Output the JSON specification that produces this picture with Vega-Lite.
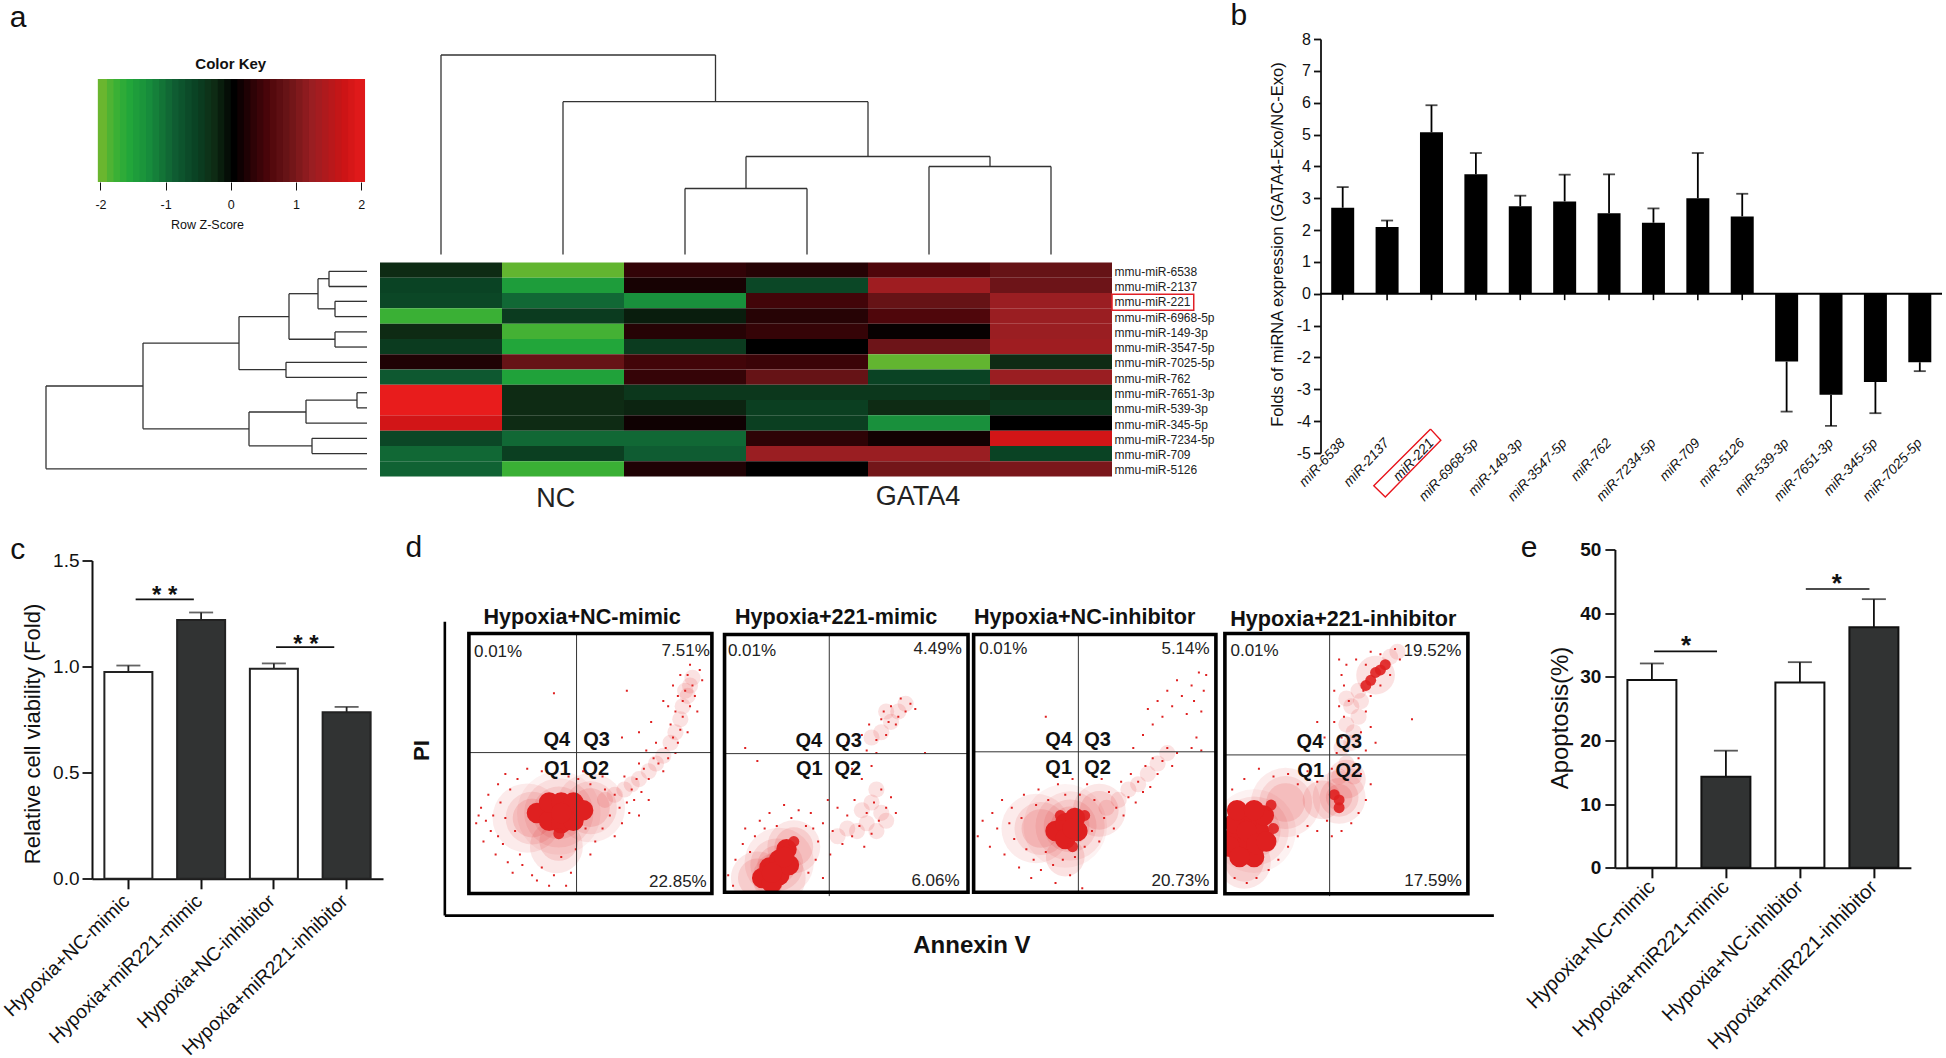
{"$schema":"https://vega.github.io/schema/vega-lite/v6.json","background":"white","padding":{"left":0,"top":1,"right":0,"bottom":0},"autosize":{"type":"pad"},"config":{"font":"Liberation Sans","view":{"stroke":null},"axis":{"grid":false,"labelColor":"#111","titleColor":"#111","domainColor":"#111","tickColor":"#111","titleFontWeight":"normal"}},"vconcat":[{"hconcat":[{"vconcat":[{"hconcat":[{"width":320,"height":218.5,"layer":[{"data":{"values":[{"z":-2.04,"z2":-1.87},{"z":-1.9,"z2":-1.77},{"z":-1.8,"z2":-1.67},{"z":-1.7,"z2":-1.57},{"z":-1.6,"z2":-1.47},{"z":-1.5,"z2":-1.37},{"z":-1.4,"z2":-1.27},{"z":-1.3,"z2":-1.17},{"z":-1.2,"z2":-1.07},{"z":-1.1,"z2":-0.97},{"z":-1.0,"z2":-0.87},{"z":-0.9,"z2":-0.77},{"z":-0.8,"z2":-0.67},{"z":-0.7,"z2":-0.57},{"z":-0.6,"z2":-0.47},{"z":-0.5,"z2":-0.37},{"z":-0.4,"z2":-0.27},{"z":-0.3,"z2":-0.17},{"z":-0.2,"z2":-0.07},{"z":-0.1,"z2":0.03},{"z":0,"z2":0.13},{"z":0.1,"z2":0.23},{"z":0.2,"z2":0.33},{"z":0.3,"z2":0.43},{"z":0.4,"z2":0.53},{"z":0.5,"z2":0.63},{"z":0.6,"z2":0.73},{"z":0.7,"z2":0.83},{"z":0.8,"z2":0.93},{"z":0.9,"z2":1.03},{"z":1.0,"z2":1.13},{"z":1.1,"z2":1.23},{"z":1.2,"z2":1.33},{"z":1.3,"z2":1.43},{"z":1.4,"z2":1.53},{"z":1.5,"z2":1.63},{"z":1.6,"z2":1.73},{"z":1.7,"z2":1.83},{"z":1.8,"z2":1.93},{"z":1.9,"z2":2.06}]},"mark":{"type":"rect"},"encoding":{"x":{"field":"z","type":"quantitative","scale":{"domain":[-2.82,2.09],"nice":false,"zero":false},"axis":{"values":[-2,-1,0,1,2],"labelExpr":"datum.value","offset":-75.5,"domain":false,"tickSize":8,"labelPadding":8,"labelFontSize":12.5,"title":"Row Z-Score","titleFontSize":12.5,"titlePadding":8}},"x2":{"field":"z2"},"y":{"datum":0,"type":"quantitative","scale":{"domain":[-0.733,1.388],"nice":false,"zero":false},"axis":null},"y2":{"datum":1},"color":{"field":"z","type":"quantitative","legend":null,"scale":{"interpolate":"rgb","domain":[-2,-1.8,-1.6,-1.3,-0.9,-0.6,-0.3,0,0.3,0.55,0.8,1.2,1.7,2],"range":["#62b530","#3ab035","#22a63a","#178c3c","#0f5c32","#0a4324","#0e2b14","#000000","#2e0306","#4f060b","#661316","#9a1e22","#cd1416","#e81c1c"]}}}},{"data":{"values":[{"t":"Color Key","x":0,"y":1.144}]},"mark":{"type":"text","fontSize":15,"fontWeight":"bold","color":"#111"},"encoding":{"x":{"field":"x","type":"quantitative"},"y":{"field":"y","type":"quantitative"},"text":{"field":"t"}}},{"data":{"values":[{"t":"a","x":-3.265,"y":1.592}]},"mark":{"type":"text","fontSize":30,"color":"#111"},"encoding":{"x":{"field":"x","type":"quantitative"},"y":{"field":"y","type":"quantitative"},"text":{"field":"t"}}}]},{"width":732,"height":218.5,"data":{"values":[{"x":0.5,"x2":2.75,"y":202.5,"y2":202.5},{"x":0.5,"x2":0.5,"y":3,"y2":202.5},{"x":2.75,"x2":2.75,"y":155.8,"y2":202.5},{"x":1.5,"x2":4,"y":155.8,"y2":155.8},{"x":1.5,"x2":1.5,"y":3,"y2":155.8},{"x":4,"x2":4,"y":101,"y2":155.8},{"x":3,"x2":5,"y":101,"y2":101},{"x":3,"x2":3,"y":69,"y2":101},{"x":5,"x2":5,"y":91,"y2":101},{"x":2.5,"x2":3.5,"y":69,"y2":69},{"x":2.5,"x2":2.5,"y":3,"y2":69},{"x":3.5,"x2":3.5,"y":3,"y2":69},{"x":4.5,"x2":5.5,"y":91,"y2":91},{"x":4.5,"x2":4.5,"y":3,"y2":91},{"x":5.5,"x2":5.5,"y":3,"y2":91}]},"mark":{"type":"rule","color":"#333","strokeWidth":1.3},"encoding":{"x":{"field":"x","type":"quantitative","scale":{"domain":[0,6],"nice":false},"axis":null},"x2":{"field":"x2"},"y":{"field":"y","type":"quantitative","scale":{"domain":[0,218.5],"nice":false},"axis":null},"y2":{"field":"y2"}}}],"spacing":13,"bounds":"flush"},{"hconcat":[{"width":320,"height":214,"data":{"values":[{"x":0,"x2":38,"y":0.575,"y2":0.575},{"x":0,"x2":38,"y":1.57,"y2":1.57},{"x":38,"x2":38,"y":0.575,"y2":1.57},{"x":0,"x2":32,"y":2.54,"y2":2.54},{"x":0,"x2":32,"y":3.54,"y2":3.54},{"x":32,"x2":32,"y":2.54,"y2":3.54},{"x":38,"x2":49,"y":1.06,"y2":1.06},{"x":32,"x2":49,"y":3.03,"y2":3.03},{"x":49,"x2":49,"y":1.06,"y2":3.03},{"x":0,"x2":32,"y":4.54,"y2":4.54},{"x":0,"x2":32,"y":5.53,"y2":5.53},{"x":32,"x2":32,"y":4.54,"y2":5.53},{"x":49,"x2":78,"y":2.04,"y2":2.04},{"x":32,"x2":78,"y":5.02,"y2":5.02},{"x":78,"x2":78,"y":2.04,"y2":5.02},{"x":0,"x2":81,"y":6.53,"y2":6.53},{"x":0,"x2":81,"y":7.52,"y2":7.52},{"x":81,"x2":81,"y":6.53,"y2":7.52},{"x":78,"x2":128,"y":3.54,"y2":3.54},{"x":81,"x2":128,"y":7.01,"y2":7.01},{"x":128,"x2":128,"y":3.54,"y2":7.01},{"x":0,"x2":10,"y":8.52,"y2":8.52},{"x":0,"x2":10,"y":9.51,"y2":9.51},{"x":10,"x2":10,"y":8.52,"y2":9.51},{"x":10,"x2":61,"y":9.0,"y2":9.0},{"x":0,"x2":61,"y":10.51,"y2":10.51},{"x":61,"x2":61,"y":9.0,"y2":10.51},{"x":0,"x2":55,"y":11.5,"y2":11.5},{"x":0,"x2":55,"y":12.5,"y2":12.5},{"x":55,"x2":55,"y":11.5,"y2":12.5},{"x":61,"x2":118,"y":9.78,"y2":9.78},{"x":55,"x2":118,"y":11.99,"y2":11.99},{"x":118,"x2":118,"y":9.78,"y2":11.99},{"x":128,"x2":224,"y":5.27,"y2":5.27},{"x":118,"x2":224,"y":10.88,"y2":10.88},{"x":224,"x2":224,"y":5.27,"y2":10.88},{"x":224,"x2":321,"y":8.08,"y2":8.08},{"x":0,"x2":321,"y":13.5,"y2":13.5},{"x":321,"x2":321,"y":8.08,"y2":13.5}]},"mark":{"type":"rule","color":"#333","strokeWidth":1.3},"encoding":{"x":{"field":"x","type":"quantitative","scale":{"domain":[320,0],"nice":false,"zero":false},"axis":null},"x2":{"field":"x2"},"y":{"field":"y","type":"quantitative","scale":{"domain":[14,0],"nice":false},"axis":null},"y2":{"field":"y2"}}},{"width":732,"height":214,"layer":[{"data":{"values":[{"m":"mmu-miR-6538","s":"NC1","z":-0.3},{"m":"mmu-miR-6538","s":"NC2","z":-2},{"m":"mmu-miR-6538","s":"NC3","z":0.33},{"m":"mmu-miR-6538","s":"G1","z":0.25},{"m":"mmu-miR-6538","s":"G2","z":0.55},{"m":"mmu-miR-6538","s":"G3","z":0.8},{"m":"mmu-miR-2137","s":"NC1","z":-0.6},{"m":"mmu-miR-2137","s":"NC2","z":-1.5},{"m":"mmu-miR-2137","s":"NC3","z":0.15},{"m":"mmu-miR-2137","s":"G1","z":-0.65},{"m":"mmu-miR-2137","s":"G2","z":1.25},{"m":"mmu-miR-2137","s":"G3","z":0.85},{"m":"mmu-miR-221","s":"NC1","z":-0.65},{"m":"mmu-miR-221","s":"NC2","z":-1.0},{"m":"mmu-miR-221","s":"NC3","z":-1.35},{"m":"mmu-miR-221","s":"G1","z":0.45},{"m":"mmu-miR-221","s":"G2","z":0.8},{"m":"mmu-miR-221","s":"G3","z":1.2},{"m":"mmu-miR-6968-5p","s":"NC1","z":-1.8},{"m":"mmu-miR-6968-5p","s":"NC2","z":-0.5},{"m":"mmu-miR-6968-5p","s":"NC3","z":-0.2},{"m":"mmu-miR-6968-5p","s":"G1","z":0.25},{"m":"mmu-miR-6968-5p","s":"G2","z":0.55},{"m":"mmu-miR-6968-5p","s":"G3","z":1.2},{"m":"mmu-miR-149-3p","s":"NC1","z":-0.3},{"m":"mmu-miR-149-3p","s":"NC2","z":-1.85},{"m":"mmu-miR-149-3p","s":"NC3","z":0.25},{"m":"mmu-miR-149-3p","s":"G1","z":0.35},{"m":"mmu-miR-149-3p","s":"G2","z":0.05},{"m":"mmu-miR-149-3p","s":"G3","z":1.2},{"m":"mmu-miR-3547-5p","s":"NC1","z":-0.5},{"m":"mmu-miR-3547-5p","s":"NC2","z":-1.6},{"m":"mmu-miR-3547-5p","s":"NC3","z":-0.5},{"m":"mmu-miR-3547-5p","s":"G1","z":0},{"m":"mmu-miR-3547-5p","s":"G2","z":0.85},{"m":"mmu-miR-3547-5p","s":"G3","z":1.25},{"m":"mmu-miR-7025-5p","s":"NC1","z":0.2},{"m":"mmu-miR-7025-5p","s":"NC2","z":0.8},{"m":"mmu-miR-7025-5p","s":"NC3","z":0.45},{"m":"mmu-miR-7025-5p","s":"G1","z":0.4},{"m":"mmu-miR-7025-5p","s":"G2","z":-2},{"m":"mmu-miR-7025-5p","s":"G3","z":-0.3},{"m":"mmu-miR-762","s":"NC1","z":-0.85},{"m":"mmu-miR-762","s":"NC2","z":-1.55},{"m":"mmu-miR-762","s":"NC3","z":0.35},{"m":"mmu-miR-762","s":"G1","z":0.8},{"m":"mmu-miR-762","s":"G2","z":-0.6},{"m":"mmu-miR-762","s":"G3","z":1.2},{"m":"mmu-miR-7651-3p","s":"NC1","z":2},{"m":"mmu-miR-7651-3p","s":"NC2","z":-0.3},{"m":"mmu-miR-7651-3p","s":"NC3","z":-0.45},{"m":"mmu-miR-7651-3p","s":"G1","z":-0.45},{"m":"mmu-miR-7651-3p","s":"G2","z":-0.45},{"m":"mmu-miR-7651-3p","s":"G3","z":-0.35},{"m":"mmu-miR-539-3p","s":"NC1","z":2},{"m":"mmu-miR-539-3p","s":"NC2","z":-0.3},{"m":"mmu-miR-539-3p","s":"NC3","z":-0.25},{"m":"mmu-miR-539-3p","s":"G1","z":-0.55},{"m":"mmu-miR-539-3p","s":"G2","z":-0.3},{"m":"mmu-miR-539-3p","s":"G3","z":-0.45},{"m":"mmu-miR-345-5p","s":"NC1","z":1.75},{"m":"mmu-miR-345-5p","s":"NC2","z":-0.3},{"m":"mmu-miR-345-5p","s":"NC3","z":0.1},{"m":"mmu-miR-345-5p","s":"G1","z":-0.55},{"m":"mmu-miR-345-5p","s":"G2","z":-1.35},{"m":"mmu-miR-345-5p","s":"G3","z":0},{"m":"mmu-miR-7234-5p","s":"NC1","z":-0.65},{"m":"mmu-miR-7234-5p","s":"NC2","z":-1.0},{"m":"mmu-miR-7234-5p","s":"NC3","z":-1.0},{"m":"mmu-miR-7234-5p","s":"G1","z":0.3},{"m":"mmu-miR-7234-5p","s":"G2","z":0.12},{"m":"mmu-miR-7234-5p","s":"G3","z":1.75},{"m":"mmu-miR-709","s":"NC1","z":-1.0},{"m":"mmu-miR-709","s":"NC2","z":-0.55},{"m":"mmu-miR-709","s":"NC3","z":-0.9},{"m":"mmu-miR-709","s":"G1","z":1.2},{"m":"mmu-miR-709","s":"G2","z":1.2},{"m":"mmu-miR-709","s":"G3","z":-0.6},{"m":"mmu-miR-5126","s":"NC1","z":-0.95},{"m":"mmu-miR-5126","s":"NC2","z":-1.8},{"m":"mmu-miR-5126","s":"NC3","z":0.2},{"m":"mmu-miR-5126","s":"G1","z":0},{"m":"mmu-miR-5126","s":"G2","z":0.9},{"m":"mmu-miR-5126","s":"G3","z":0.95}]},"mark":{"type":"rect"},"encoding":{"x":{"field":"s","type":"nominal","sort":null,"axis":null,"scale":{"padding":0}},"y":{"field":"m","type":"nominal","sort":null,"scale":{"padding":0},"axis":{"orient":"right","title":null,"domain":false,"ticks":false,"labelFontSize":12,"labelPadding":2,"labelOffset":1.5,"labelColor":"#222"}},"color":{"field":"z","type":"quantitative","legend":null,"scale":{"interpolate":"rgb","domain":[-2,-1.8,-1.6,-1.3,-0.9,-0.6,-0.3,0,0.3,0.55,0.8,1.2,1.7,2],"range":["#62b530","#3ab035","#22a63a","#178c3c","#0f5c32","#0a4324","#0e2b14","#000000","#2e0306","#4f060b","#661316","#9a1e22","#cd1416","#e81c1c"]}}}},{"layer":[{"data":{"values":[{"x":6,"x2":6.67,"y":2.08,"y2":3.12}]},"mark":{"type":"rect","fill":null,"stroke":"#e01f26","strokeWidth":1.5},"encoding":{"x":{"field":"x","type":"quantitative","scale":{"domain":[0,6],"nice":false},"axis":null},"x2":{"field":"x2"},"y":{"field":"y","type":"quantitative","scale":{"domain":[14,0],"nice":false},"axis":null},"y2":{"field":"y2"}}},{"data":{"values":[{"t":"NC","x":1.44,"y":15.48},{"t":"GATA4","x":4.41,"y":15.31}]},"mark":{"type":"text","fontSize":27,"color":"#222"},"encoding":{"x":{"field":"x","type":"quantitative"},"y":{"field":"y","type":"quantitative"},"text":{"field":"t"}}}]}],"resolve":{"scale":{"x":"independent","y":"independent"}}}],"spacing":13,"bounds":"flush"}],"spacing":223.5,"bounds":"flush"},{"width":621.5,"height":414,"layer":[{"data":{"values":[{"m":"miR-6538","v":2.7,"e":3.35},{"m":"miR-2137","v":2.1,"e":2.3},{"m":"miR-221","v":5.07,"e":5.92},{"m":"miR-6968-5p","v":3.75,"e":4.42},{"m":"miR-149-3p","v":2.75,"e":3.08},{"m":"miR-3547-5p","v":2.9,"e":3.74},{"m":"miR-762","v":2.53,"e":3.75},{"m":"miR-7234-5p","v":2.23,"e":2.68},{"m":"miR-709","v":3.0,"e":4.42},{"m":"miR-5126","v":2.43,"e":3.14},{"m":"miR-539-3p","v":-2.13,"e":-3.7},{"m":"miR-7651-3p","v":-3.17,"e":-4.15},{"m":"miR-345-5p","v":-2.77,"e":-3.75},{"m":"miR-7025-5p","v":-2.15,"e":-2.43}]},"layer":[{"mark":{"type":"bar","color":"#000","width":23},"encoding":{"x":{"field":"m","type":"nominal","sort":null,"title":null,"scale":{"paddingInner":0.48,"paddingOuter":0.24},"axis":{"domain":false,"ticks":false,"labelAngle":-47,"labelAlign":"right","labelBaseline":"middle","labelPadding":-12.5,"labelFontSize":13.8,"labelFontStyle":"italic"}},"y":{"field":"v","type":"quantitative","title":"Folds of miRNA expression (GATA4-Exo/NC-Exo)","scale":{"domain":[-5,8],"nice":false},"axis":{"values":[-5,-4,-3,-2,-1,0,1,2,3,4,5,6,7,8],"tickCount":14,"labelExpr":"''+datum.value","labelOverlap":false,"labelFontSize":16,"tickSize":7,"tickWidth":1.8,"domainWidth":1.8,"labelPadding":3,"titleFontSize":16.6,"titleX":-43,"titleY":205,"titleBaseline":"middle"}}}},{"mark":{"type":"rule","color":"#000","strokeWidth":1.8},"encoding":{"x":{"field":"m","type":"nominal","sort":null},"y":{"field":"v","type":"quantitative"},"y2":{"field":"e"}}},{"mark":{"type":"tick","color":"#000","size":12,"thickness":1.8},"encoding":{"x":{"field":"m","type":"nominal","sort":null},"y":{"field":"e","type":"quantitative"}}},{"transform":[{"filter":"datum.v>0"}],"mark":{"type":"rule","color":"#000","strokeWidth":1.6},"encoding":{"x":{"field":"m","type":"nominal","sort":null},"y":{"datum":0},"y2":{"datum":-0.2}}}]},{"layer":[{"data":{"values":[{"o":1,"x":0,"y":0}]},"mark":{"type":"rule","color":"#000","strokeWidth":1.8},"encoding":{"y":{"datum":0}}},{"data":{"values":[{"o":1,"x":2.48,"y":-4.25},{"o":2,"x":2.71,"y":-4.6},{"o":3,"x":1.46,"y":-6.38},{"o":4,"x":1.2,"y":-6.03},{"o":5,"x":2.48,"y":-4.25}]},"mark":{"type":"line","color":"#e8141c","strokeWidth":1.4},"encoding":{"x":{"field":"x","type":"quantitative","scale":{"domain":[0,14],"nice":false},"axis":null},"y":{"field":"y","type":"quantitative"},"order":{"field":"o"}}},{"data":{"values":[{"t":"b","x":-1.84,"y":8.72}]},"mark":{"type":"text","fontSize":30,"color":"#111"},"encoding":{"x":{"field":"x","type":"quantitative"},"y":{"field":"y","type":"quantitative"},"text":{"field":"t"}}}]}],"resolve":{"scale":{"x":"independent"}}}],"spacing":1273.5,"bounds":"flush"},{"hconcat":[{"width":44.8,"height":1,"data":{"values":[]},"mark":"point"},{"hconcat":[{"hconcat":[{"vconcat":[{"width":1,"height":10.3,"data":{"values":[]},"mark":"point"},{"width":291,"height":318.3,"layer":[{"data":{"values":[{"g":"Hypoxia+NC-mimic","v":0.975,"e":1.005,"f":"w"},{"g":"Hypoxia+miR221-mimic","v":1.22,"e":1.255,"f":"k"},{"g":"Hypoxia+NC-inhibitor","v":0.99,"e":1.015,"f":"w"},{"g":"Hypoxia+miR221-inhibitor","v":0.785,"e":0.81,"f":"k"}]},"layer":[{"mark":{"type":"rule","color":"#222","strokeWidth":1.8},"encoding":{"x":{"field":"g","type":"nominal","sort":null,"title":null,"scale":{"paddingInner":0.33,"paddingOuter":0.165},"axis":{"labelAngle":-44,"labelAlign":"right","labelBaseline":"middle","labelPadding":9,"labelOffset":-1.8,"labelFontSize":19.3,"tickSize":10,"tickWidth":2,"domainWidth":2,"labelLimit":400}},"y":{"field":"v","type":"quantitative","title":"Relative cell viability (Fold)","scale":{"domain":[0,1.5],"nice":false},"axis":{"values":[0,0.5,1,1.5],"format":".1f","labelFontSize":19,"tickSize":10,"tickWidth":1.8,"domainWidth":2,"labelPadding":3,"titleFontSize":22,"titleX":-60,"titleY":173,"titleBaseline":"middle"}},"y2":{"field":"e"}}},{"mark":{"type":"tick","color":"#222","size":24,"thickness":1.8},"encoding":{"x":{"field":"g","type":"nominal","sort":null},"y":{"field":"e","type":"quantitative"}}},{"mark":{"type":"bar","stroke":"#222","strokeWidth":2,"width":48},"encoding":{"x":{"field":"g","type":"nominal","sort":null},"y":{"field":"v","type":"quantitative"},"color":{"field":"f","type":"nominal","legend":null,"scale":{"domain":["w","k"],"range":["#ffffff","#313333"]}}}}]},{"layer":[{"data":{"values":[{"x":0.6,"x2":1.4,"y":1.317},{"x":2.53,"x2":3.33,"y":1.092}]},"mark":{"type":"rule","color":"#111","strokeWidth":1.6},"encoding":{"x":{"field":"x","type":"quantitative","scale":{"domain":[0,4],"nice":false},"axis":null},"x2":{"field":"x2"},"y":{"field":"y","type":"quantitative"}}},{"data":{"values":[{"t":"* *","x":1,"y":1.354},{"t":"* *","x":2.94,"y":1.127}]},"mark":{"type":"text","fontSize":24,"fontWeight":"bold","color":"#111","dy":5},"encoding":{"x":{"field":"x","type":"quantitative"},"y":{"field":"y","type":"quantitative"},"text":{"field":"t"}}},{"data":{"values":[{"t":"c","x":-1.02,"y":1.55}]},"mark":{"type":"text","fontSize":30,"color":"#111"},"encoding":{"x":{"field":"x","type":"quantitative"},"y":{"field":"y","type":"quantitative"},"text":{"field":"t"}}}]}],"resolve":{"scale":{"x":"independent"}}}],"spacing":0,"bounds":"flush"},{"vconcat":[{"width":1,"height":83.3,"data":{"values":[]},"mark":"point"},{"data":{"values":[{"p":"P1","k":"b","d":"h","x":37,"y":31},{"p":"P1","k":"b","d":"g","x":37,"y":31},{"p":"P1","k":"b","d":"e","x":37,"y":31},{"p":"P1","k":"b","d":"b","x":37,"y":31},{"p":"P1","k":"b","d":"a","x":37,"y":31},{"p":"P1","k":"b","d":"g","x":24,"y":29},{"p":"P1","k":"b","d":"e","x":26,"y":29},{"p":"P1","k":"b","d":"b","x":26,"y":29},{"p":"P1","k":"b","d":"g","x":50,"y":33},{"p":"P1","k":"b","d":"e","x":50,"y":33},{"p":"P1","k":"b","d":"b","x":50,"y":33},{"p":"P1","k":"b","d":"e","x":36,"y":18},{"p":"P1","k":"b","d":"b","x":37,"y":20},{"p":"P1","k":"b","d":"c","x":28,"y":31},{"p":"P1","k":"b","d":"c","x":33,"y":28},{"p":"P1","k":"b","d":"c","x":33,"y":35},{"p":"P1","k":"b","d":"c","x":38,"y":27},{"p":"P1","k":"b","d":"c","x":38,"y":35},{"p":"P1","k":"b","d":"c","x":43,"y":28},{"p":"P1","k":"b","d":"c","x":43,"y":35},{"p":"P1","k":"b","d":"c","x":47,"y":32},{"p":"P1","k":"b","d":"c","x":38,"y":31},{"p":"P1","k":"b","d":"n","x":37,"y":23},{"p":"P1","k":"b","d":"t","x":56,"y":36},{"p":"P1","k":"b","d":"t","x":60,"y":38},{"p":"P1","k":"b","d":"t","x":64,"y":40},{"p":"P1","k":"b","d":"t","x":67,"y":42},{"p":"P1","k":"b","d":"t","x":70,"y":44},{"p":"P1","k":"b","d":"t","x":74,"y":47},{"p":"P1","k":"b","d":"t","x":77,"y":50},{"p":"P1","k":"b","d":"t","x":80,"y":53},{"p":"P1","k":"b","d":"t","x":83,"y":58},{"p":"P1","k":"b","d":"t","x":85,"y":62},{"p":"P1","k":"b","d":"t","x":87,"y":67},{"p":"P1","k":"b","d":"t","x":88,"y":72},{"p":"P1","k":"b","d":"t","x":90,"y":76},{"p":"P1","k":"b","d":"t","x":89,"y":78},{"p":"P1","k":"b","d":"t","x":91,"y":80},{"p":"P1","k":"b","d":"t","x":92,"y":83},{"p":"P2","k":"b","d":"g","x":24,"y":12},{"p":"P2","k":"b","d":"e","x":23,"y":11},{"p":"P2","k":"b","d":"b","x":23,"y":11},{"p":"P2","k":"b","d":"a","x":23,"y":11},{"p":"P2","k":"b","d":"e","x":30,"y":18},{"p":"P2","k":"b","d":"b","x":30,"y":18},{"p":"P2","k":"b","d":"e","x":15,"y":6},{"p":"P2","k":"b","d":"b","x":15,"y":6},{"p":"P2","k":"b","d":"e","x":24,"y":6},{"p":"P2","k":"b","d":"c","x":17,"y":6},{"p":"P2","k":"b","d":"c","x":20,"y":10},{"p":"P2","k":"b","d":"c","x":24,"y":7},{"p":"P2","k":"b","d":"c","x":24,"y":13},{"p":"P2","k":"b","d":"c","x":28,"y":11},{"p":"P2","k":"b","d":"c","x":27,"y":17},{"p":"P2","k":"b","d":"c","x":21,"y":4},{"p":"P2","k":"b","d":"c","x":21,"y":8},{"p":"P2","k":"b","d":"c","x":26,"y":14},{"p":"P2","k":"b","d":"n","x":30,"y":20},{"p":"P2","k":"b","d":"t","x":48,"y":22},{"p":"P2","k":"b","d":"t","x":52,"y":25},{"p":"P2","k":"b","d":"t","x":56,"y":24},{"p":"P2","k":"b","d":"t","x":60,"y":27},{"p":"P2","k":"b","d":"t","x":64,"y":24},{"p":"P2","k":"b","d":"t","x":66,"y":31},{"p":"P2","k":"b","d":"t","x":68,"y":28},{"p":"P2","k":"b","d":"t","x":62,"y":35},{"p":"P2","k":"b","d":"t","x":64,"y":40},{"p":"P2","k":"b","d":"t","x":58,"y":32},{"p":"P2","k":"b","d":"t","x":66,"y":62},{"p":"P2","k":"b","d":"t","x":70,"y":66},{"p":"P2","k":"b","d":"t","x":73,"y":70},{"p":"P2","k":"b","d":"t","x":68,"y":70},{"p":"P2","k":"b","d":"t","x":62,"y":60},{"p":"P2","k":"b","d":"t","x":76,"y":73},{"p":"P3","k":"b","d":"h","x":38,"y":26},{"p":"P3","k":"b","d":"g","x":40,"y":26},{"p":"P3","k":"b","d":"e","x":40,"y":26},{"p":"P3","k":"b","d":"b","x":40,"y":26},{"p":"P3","k":"b","d":"a","x":40,"y":26},{"p":"P3","k":"b","d":"g","x":26,"y":25},{"p":"P3","k":"b","d":"e","x":28,"y":25},{"p":"P3","k":"b","d":"b","x":28,"y":25},{"p":"P3","k":"b","d":"e","x":52,"y":32},{"p":"P3","k":"b","d":"b","x":52,"y":32},{"p":"P3","k":"b","d":"b","x":38,"y":14},{"p":"P3","k":"b","d":"c","x":34,"y":24},{"p":"P3","k":"b","d":"c","x":38,"y":27},{"p":"P3","k":"b","d":"c","x":42,"y":29},{"p":"P3","k":"b","d":"c","x":38,"y":21},{"p":"P3","k":"b","d":"c","x":43,"y":24},{"p":"P3","k":"b","d":"c","x":41,"y":25},{"p":"P3","k":"b","d":"n","x":46,"y":30},{"p":"P3","k":"b","d":"n","x":36,"y":30},{"p":"P3","k":"b","d":"n","x":41,"y":18},{"p":"P3","k":"b","d":"t","x":55,"y":33},{"p":"P3","k":"b","d":"t","x":60,"y":36},{"p":"P3","k":"b","d":"t","x":64,"y":40},{"p":"P3","k":"b","d":"t","x":68,"y":42},{"p":"P3","k":"b","d":"t","x":72,"y":46},{"p":"P3","k":"b","d":"t","x":76,"y":50},{"p":"P3","k":"b","d":"t","x":80,"y":54},{"p":"P4","k":"b","d":"h","x":12,"y":24},{"p":"P4","k":"b","d":"g","x":12,"y":24},{"p":"P4","k":"b","d":"e","x":12,"y":24},{"p":"P4","k":"b","d":"b","x":12,"y":24},{"p":"P4","k":"b","d":"a","x":12,"y":24},{"p":"P4","k":"b","d":"g","x":25,"y":35},{"p":"P4","k":"b","d":"e","x":25,"y":35},{"p":"P4","k":"b","d":"b","x":25,"y":35},{"p":"P4","k":"b","d":"e","x":8,"y":12},{"p":"P4","k":"b","d":"b","x":8,"y":12},{"p":"P4","k":"b","d":"e","x":47,"y":37},{"p":"P4","k":"b","d":"b","x":47,"y":37},{"p":"P4","k":"b","d":"a","x":47,"y":37},{"p":"P4","k":"b","d":"b","x":40,"y":36},{"p":"P4","k":"b","d":"b","x":50,"y":44},{"p":"P4","k":"b","d":"c","x":4,"y":22},{"p":"P4","k":"b","d":"c","x":9,"y":19},{"p":"P4","k":"b","d":"c","x":14,"y":24},{"p":"P4","k":"b","d":"c","x":9,"y":28},{"p":"P4","k":"b","d":"c","x":16,"y":30},{"p":"P4","k":"b","d":"c","x":12,"y":14},{"p":"P4","k":"b","d":"c","x":4,"y":27},{"p":"P4","k":"b","d":"c","x":2,"y":18},{"p":"P4","k":"b","d":"c","x":6,"y":14},{"p":"P4","k":"b","d":"c","x":9,"y":24},{"p":"P4","k":"b","d":"c","x":13,"y":19},{"p":"P4","k":"b","d":"c","x":5,"y":32},{"p":"P4","k":"b","d":"c","x":12,"y":32},{"p":"P4","k":"b","d":"c","x":17,"y":20},{"p":"P4","k":"b","d":"n","x":19,"y":34},{"p":"P4","k":"b","d":"n","x":20,"y":25},{"p":"P4","k":"b","d":"n","x":47,"y":36},{"p":"P4","k":"b","d":"n","x":47,"y":33},{"p":"P4","k":"b","d":"n","x":45,"y":38},{"p":"P4","k":"b","d":"b","x":62,"y":84},{"p":"P4","k":"b","d":"n","x":60,"y":82},{"p":"P4","k":"b","d":"n","x":62,"y":85},{"p":"P4","k":"b","d":"n","x":64,"y":86},{"p":"P4","k":"b","d":"n","x":66,"y":88},{"p":"P4","k":"b","d":"n","x":58,"y":80},{"p":"P4","k":"b","d":"t","x":55,"y":78},{"p":"P4","k":"b","d":"t","x":52,"y":72},{"p":"P4","k":"b","d":"t","x":50,"y":65},{"p":"P4","k":"b","d":"t","x":52,"y":58},{"p":"P4","k":"b","d":"t","x":50,"y":50},{"p":"P4","k":"b","d":"t","x":53,"y":62},{"p":"P4","k":"b","d":"t","x":55,"y":68},{"p":"P4","k":"b","d":"t","x":50,"y":75},{"p":"P4","k":"b","d":"t","x":48,"y":56},{"p":"P4","k":"b","d":"t","x":56,"y":74},{"p":"P4","k":"b","d":"t","x":47,"y":45},{"p":"P4","k":"b","d":"t","x":53,"y":45},{"p":"P4","k":"b","d":"t","x":68,"y":91},{"p":"P4","k":"b","d":"t","x":71,"y":93},{"p":"P1","k":"s","x":3,"y":27},{"p":"P1","k":"s","x":5,"y":33},{"p":"P1","k":"s","x":6,"y":20},{"p":"P1","k":"s","x":8,"y":38},{"p":"P1","k":"s","x":9,"y":24},{"p":"P1","k":"s","x":10,"y":30},{"p":"P1","k":"s","x":11,"y":15},{"p":"P1","k":"s","x":12,"y":42},{"p":"P1","k":"s","x":7,"y":28},{"p":"P1","k":"s","x":13,"y":35},{"p":"P1","k":"s","x":4,"y":30},{"p":"P1","k":"s","x":14,"y":19},{"p":"P1","k":"s","x":15,"y":46},{"p":"P1","k":"s","x":16,"y":12},{"p":"P1","k":"s","x":17,"y":40},{"p":"P1","k":"s","x":18,"y":8},{"p":"P1","k":"s","x":19,"y":24},{"p":"P1","k":"s","x":15,"y":29},{"p":"P1","k":"s","x":12,"y":22},{"p":"P1","k":"s","x":20,"y":44},{"p":"P1","k":"s","x":21,"y":15},{"p":"P1","k":"s","x":22,"y":11},{"p":"P1","k":"s","x":24,"y":48},{"p":"P1","k":"s","x":26,"y":7},{"p":"P1","k":"s","x":28,"y":5},{"p":"P1","k":"s","x":30,"y":10},{"p":"P1","k":"s","x":33,"y":3},{"p":"P1","k":"s","x":35,"y":7},{"p":"P1","k":"s","x":38,"y":14},{"p":"P1","k":"s","x":40,"y":3},{"p":"P1","k":"s","x":42,"y":8},{"p":"P1","k":"s","x":44,"y":17},{"p":"P1","k":"s","x":41,"y":45},{"p":"P1","k":"s","x":36,"y":50},{"p":"P1","k":"s","x":30,"y":47},{"p":"P1","k":"s","x":45,"y":44},{"p":"P1","k":"s","x":52,"y":20},{"p":"P1","k":"s","x":55,"y":25},{"p":"P1","k":"s","x":58,"y":30},{"p":"P1","k":"s","x":60,"y":22},{"p":"P1","k":"s","x":62,"y":33},{"p":"P1","k":"s","x":63,"y":27},{"p":"P1","k":"s","x":65,"y":35},{"p":"P1","k":"s","x":56,"y":40},{"p":"P1","k":"s","x":60,"y":38},{"p":"P1","k":"s","x":67,"y":40},{"p":"P1","k":"s","x":69,"y":44},{"p":"P1","k":"s","x":66,"y":31},{"p":"P1","k":"s","x":71,"y":39},{"p":"P1","k":"s","x":72,"y":48},{"p":"P1","k":"s","x":74,"y":44},{"p":"P1","k":"s","x":76,"y":52},{"p":"P1","k":"s","x":73,"y":55},{"p":"P1","k":"s","x":78,"y":50},{"p":"P1","k":"s","x":80,"y":47},{"p":"P1","k":"s","x":81,"y":56},{"p":"P1","k":"s","x":82,"y":52},{"p":"P1","k":"s","x":84,"y":60},{"p":"P1","k":"s","x":85,"y":54},{"p":"P1","k":"s","x":83,"y":65},{"p":"P1","k":"s","x":86,"y":58},{"p":"P1","k":"s","x":87,"y":63},{"p":"P1","k":"s","x":88,"y":68},{"p":"P1","k":"s","x":90,"y":62},{"p":"P1","k":"s","x":85,"y":70},{"p":"P1","k":"s","x":88,"y":74},{"p":"P1","k":"s","x":91,"y":72},{"p":"P1","k":"s","x":86,"y":76},{"p":"P1","k":"s","x":89,"y":78},{"p":"P1","k":"s","x":92,"y":80},{"p":"P1","k":"s","x":84,"y":80},{"p":"P1","k":"s","x":90,"y":84},{"p":"P1","k":"s","x":93,"y":76},{"p":"P1","k":"s","x":95,"y":86},{"p":"P1","k":"s","x":87,"y":84},{"p":"P1","k":"s","x":91,"y":88},{"p":"P1","k":"s","x":94,"y":70},{"p":"P1","k":"s","x":96,"y":82},{"p":"P1","k":"s","x":82,"y":72},{"p":"P1","k":"s","x":80,"y":74},{"p":"P1","k":"s","x":70,"y":62},{"p":"P1","k":"s","x":75,"y":66},{"p":"P1","k":"s","x":63,"y":60},{"p":"P1","k":"s","x":65,"y":78},{"p":"P1","k":"s","x":35,"y":77},{"p":"P1","k":"s","x":70,"y":50},{"p":"P1","k":"s","x":77,"y":58},{"p":"P1","k":"s","x":68,"y":36},{"p":"P1","k":"s","x":50,"y":15},{"p":"P1","k":"s","x":48,"y":25},{"p":"P1","k":"s","x":47,"y":47},{"p":"P1","k":"s","x":50,"y":42},{"p":"P1","k":"s","x":55,"y":45},{"p":"P1","k":"s","x":64,"y":45},{"p":"P1","k":"s","x":74,"y":36},{"p":"P1","k":"s","x":70,"y":30},{"p":"P2","k":"s","x":3,"y":7},{"p":"P2","k":"s","x":6,"y":13},{"p":"P2","k":"s","x":9,"y":19},{"p":"P2","k":"s","x":5,"y":3},{"p":"P2","k":"s","x":10,"y":25},{"p":"P2","k":"s","x":12,"y":16},{"p":"P2","k":"s","x":14,"y":22},{"p":"P2","k":"s","x":16,"y":28},{"p":"P2","k":"s","x":18,"y":25},{"p":"P2","k":"s","x":20,"y":31},{"p":"P2","k":"s","x":23,"y":26},{"p":"P2","k":"s","x":26,"y":34},{"p":"P2","k":"s","x":29,"y":29},{"p":"P2","k":"s","x":32,"y":32},{"p":"P2","k":"s","x":35,"y":26},{"p":"P2","k":"s","x":38,"y":25},{"p":"P2","k":"s","x":37,"y":31},{"p":"P2","k":"s","x":40,"y":20},{"p":"P2","k":"s","x":42,"y":27},{"p":"P2","k":"s","x":39,"y":13},{"p":"P2","k":"s","x":36,"y":8},{"p":"P2","k":"s","x":42,"y":6},{"p":"P2","k":"s","x":45,"y":15},{"p":"P2","k":"s","x":46,"y":24},{"p":"P2","k":"s","x":48,"y":33},{"p":"P2","k":"s","x":44,"y":36},{"p":"P2","k":"s","x":50,"y":19},{"p":"P2","k":"s","x":52,"y":30},{"p":"P2","k":"s","x":54,"y":22},{"p":"P2","k":"s","x":55,"y":36},{"p":"P2","k":"s","x":57,"y":26},{"p":"P2","k":"s","x":59,"y":18},{"p":"P2","k":"s","x":60,"y":31},{"p":"P2","k":"s","x":62,"y":23},{"p":"P2","k":"s","x":63,"y":35},{"p":"P2","k":"s","x":65,"y":28},{"p":"P2","k":"s","x":66,"y":40},{"p":"P2","k":"s","x":68,"y":33},{"p":"P2","k":"s","x":70,"y":37},{"p":"P2","k":"s","x":72,"y":31},{"p":"P2","k":"s","x":58,"y":44},{"p":"P2","k":"s","x":54,"y":48},{"p":"P2","k":"s","x":62,"y":49},{"p":"P2","k":"s","x":60,"y":55},{"p":"P2","k":"s","x":64,"y":54},{"p":"P2","k":"s","x":52,"y":58},{"p":"P2","k":"s","x":58,"y":61},{"p":"P2","k":"s","x":61,"y":65},{"p":"P2","k":"s","x":64,"y":59},{"p":"P2","k":"s","x":66,"y":67},{"p":"P2","k":"s","x":68,"y":61},{"p":"P2","k":"s","x":70,"y":72},{"p":"P2","k":"s","x":72,"y":65},{"p":"P2","k":"s","x":74,"y":75},{"p":"P2","k":"s","x":76,"y":70},{"p":"P2","k":"s","x":78,"y":73},{"p":"P2","k":"s","x":80,"y":71},{"p":"P2","k":"s","x":69,"y":66},{"p":"P2","k":"s","x":73,"y":68},{"p":"P2","k":"s","x":67,"y":70},{"p":"P2","k":"s","x":10,"y":56},{"p":"P2","k":"s","x":15,"y":51},{"p":"P2","k":"s","x":84,"y":54},{"p":"P3","k":"s","x":2,"y":22},{"p":"P3","k":"s","x":4,"y":28},{"p":"P3","k":"s","x":7,"y":18},{"p":"P3","k":"s","x":8,"y":31},{"p":"P3","k":"s","x":10,"y":25},{"p":"P3","k":"s","x":12,"y":36},{"p":"P3","k":"s","x":13,"y":15},{"p":"P3","k":"s","x":15,"y":27},{"p":"P3","k":"s","x":16,"y":33},{"p":"P3","k":"s","x":17,"y":21},{"p":"P3","k":"s","x":19,"y":10},{"p":"P3","k":"s","x":20,"y":29},{"p":"P3","k":"s","x":21,"y":38},{"p":"P3","k":"s","x":22,"y":17},{"p":"P3","k":"s","x":24,"y":6},{"p":"P3","k":"s","x":25,"y":13},{"p":"P3","k":"s","x":26,"y":34},{"p":"P3","k":"s","x":27,"y":40},{"p":"P3","k":"s","x":28,"y":9},{"p":"P3","k":"s","x":30,"y":16},{"p":"P3","k":"s","x":31,"y":36},{"p":"P3","k":"s","x":33,"y":11},{"p":"P3","k":"s","x":34,"y":4},{"p":"P3","k":"s","x":35,"y":42},{"p":"P3","k":"s","x":37,"y":13},{"p":"P3","k":"s","x":38,"y":38},{"p":"P3","k":"s","x":40,"y":7},{"p":"P3","k":"s","x":41,"y":44},{"p":"P3","k":"s","x":42,"y":14},{"p":"P3","k":"s","x":44,"y":38},{"p":"P3","k":"s","x":45,"y":2},{"p":"P3","k":"s","x":46,"y":18},{"p":"P3","k":"s","x":47,"y":42},{"p":"P3","k":"s","x":49,"y":24},{"p":"P3","k":"s","x":50,"y":36},{"p":"P3","k":"s","x":52,"y":20},{"p":"P3","k":"s","x":53,"y":44},{"p":"P3","k":"s","x":54,"y":29},{"p":"P3","k":"s","x":56,"y":39},{"p":"P3","k":"s","x":58,"y":25},{"p":"P3","k":"s","x":59,"y":33},{"p":"P3","k":"s","x":61,"y":43},{"p":"P3","k":"s","x":62,"y":30},{"p":"P3","k":"s","x":64,"y":37},{"p":"P3","k":"s","x":65,"y":46},{"p":"P3","k":"s","x":67,"y":35},{"p":"P3","k":"s","x":68,"y":43},{"p":"P3","k":"s","x":70,"y":39},{"p":"P3","k":"s","x":71,"y":49},{"p":"P3","k":"s","x":73,"y":41},{"p":"P3","k":"s","x":74,"y":52},{"p":"P3","k":"s","x":76,"y":46},{"p":"P3","k":"s","x":78,"y":51},{"p":"P3","k":"s","x":80,"y":56},{"p":"P3","k":"s","x":82,"y":49},{"p":"P3","k":"s","x":84,"y":54},{"p":"P3","k":"s","x":90,"y":56},{"p":"P3","k":"s","x":94,"y":55},{"p":"P3","k":"s","x":92,"y":60},{"p":"P3","k":"s","x":74,"y":65},{"p":"P3","k":"s","x":70,"y":61},{"p":"P3","k":"s","x":72,"y":71},{"p":"P3","k":"s","x":76,"y":74},{"p":"P3","k":"s","x":78,"y":68},{"p":"P3","k":"s","x":80,"y":78},{"p":"P3","k":"s","x":82,"y":72},{"p":"P3","k":"s","x":84,"y":82},{"p":"P3","k":"s","x":86,"y":76},{"p":"P3","k":"s","x":88,"y":69},{"p":"P3","k":"s","x":90,"y":80},{"p":"P3","k":"s","x":91,"y":74},{"p":"P3","k":"s","x":93,"y":85},{"p":"P3","k":"s","x":95,"y":78},{"p":"P3","k":"s","x":94,"y":70},{"p":"P3","k":"s","x":96,"y":84},{"p":"P3","k":"s","x":30,"y":68},{"p":"P3","k":"s","x":66,"y":56},{"p":"P4","k":"s","x":3,"y":40},{"p":"P4","k":"s","x":8,"y":44},{"p":"P4","k":"s","x":14,"y":48},{"p":"P4","k":"s","x":20,"y":45},{"p":"P4","k":"s","x":26,"y":46},{"p":"P4","k":"s","x":30,"y":42},{"p":"P4","k":"s","x":34,"y":47},{"p":"P4","k":"s","x":38,"y":43},{"p":"P4","k":"s","x":4,"y":6},{"p":"P4","k":"s","x":9,"y":4},{"p":"P4","k":"s","x":13,"y":6},{"p":"P4","k":"s","x":18,"y":9},{"p":"P4","k":"s","x":22,"y":13},{"p":"P4","k":"s","x":26,"y":18},{"p":"P4","k":"s","x":30,"y":22},{"p":"P4","k":"s","x":34,"y":26},{"p":"P4","k":"s","x":38,"y":24},{"p":"P4","k":"s","x":42,"y":28},{"p":"P4","k":"s","x":44,"y":22},{"p":"P4","k":"s","x":48,"y":24},{"p":"P4","k":"s","x":52,"y":27},{"p":"P4","k":"s","x":55,"y":31},{"p":"P4","k":"s","x":58,"y":36},{"p":"P4","k":"s","x":60,"y":42},{"p":"P4","k":"s","x":56,"y":46},{"p":"P4","k":"s","x":44,"y":48},{"p":"P4","k":"s","x":46,"y":54},{"p":"P4","k":"s","x":48,"y":60},{"p":"P4","k":"s","x":45,"y":66},{"p":"P4","k":"s","x":47,"y":72},{"p":"P4","k":"s","x":45,"y":78},{"p":"P4","k":"s","x":48,"y":84},{"p":"P4","k":"s","x":50,"y":88},{"p":"P4","k":"s","x":54,"y":90},{"p":"P4","k":"s","x":58,"y":88},{"p":"P4","k":"s","x":60,"y":93},{"p":"P4","k":"s","x":64,"y":92},{"p":"P4","k":"s","x":70,"y":94},{"p":"P4","k":"s","x":72,"y":90},{"p":"P4","k":"s","x":68,"y":84},{"p":"P4","k":"s","x":64,"y":80},{"p":"P4","k":"s","x":60,"y":76},{"p":"P4","k":"s","x":58,"y":70},{"p":"P4","k":"s","x":56,"y":62},{"p":"P4","k":"s","x":60,"y":64},{"p":"P4","k":"s","x":58,"y":55},{"p":"P4","k":"s","x":62,"y":58},{"p":"P4","k":"s","x":55,"y":52},{"p":"P4","k":"s","x":49,"y":68},{"p":"P4","k":"s","x":51,"y":74},{"p":"P4","k":"s","x":49,"y":80},{"p":"P4","k":"s","x":57,"y":78},{"p":"P4","k":"s","x":47,"y":90},{"p":"P4","k":"s","x":77,"y":67},{"p":"P4","k":"s","x":38,"y":66},{"p":"P4","k":"s","x":41,"y":60},{"p":"P1","k":"c","x":44.3,"x2":44.3,"y":0,"y2":100},{"p":"P1","k":"c","x":0,"x2":100,"y":54.2,"y2":54.2},{"p":"P2","k":"c","x":44.6,"x2":44.6,"y":-1,"y2":100},{"p":"P2","k":"c","x":1.5,"x2":101.7,"y":53.8,"y2":53.8},{"p":"P3","k":"c","x":43.4,"x2":43.4,"y":0,"y2":100},{"p":"P3","k":"c","x":0.3,"x2":100,"y":54.5,"y2":54.5},{"p":"P4","k":"c","x":43.1,"x2":43.1,"y":-1,"y2":100},{"p":"P4","k":"c","x":0,"x2":100,"y":53.3,"y2":53.3},{"p":"P1","k":"f","x":0,"x2":100,"y":0,"y2":100},{"p":"P2","k":"f","x":1.5,"x2":101.7,"y":0.5,"y2":99.6},{"p":"P3","k":"f","x":0.3,"x2":100,"y":0.5,"y2":99.6},{"p":"P4","k":"f","x":0,"x2":100,"y":-0.1,"y2":100},{"p":"P1","k":"l","x":-9.9,"x2":421.8,"y":-8.5,"y2":-8.5},{"p":"P1","k":"l","x":-9.9,"x2":-9.9,"y":-8.5,"y2":104.5},{"p":"P1","k":"T","t":"Hypoxia+NC-mimic","x":46.6,"y":106},{"p":"P2","k":"T","t":"Hypoxia+221-mimic","x":47.4,"y":106},{"p":"P3","k":"T","t":"Hypoxia+NC-inhibitor","x":46,"y":106},{"p":"P4","k":"T","t":"Hypoxia+221-inhibitor","x":48.7,"y":105.3},{"p":"P1","k":"Q","t":"Q4","x":36.2,"y":59},{"p":"P1","k":"Q","t":"Q3","x":52.5,"y":59},{"p":"P1","k":"Q","t":"Q1","x":36.4,"y":48},{"p":"P1","k":"Q","t":"Q2","x":52.2,"y":48},{"p":"P2","k":"Q","t":"Q4","x":36.2,"y":58.5},{"p":"P2","k":"Q","t":"Q3","x":52.5,"y":58.5},{"p":"P2","k":"Q","t":"Q1","x":36.4,"y":47.7},{"p":"P2","k":"Q","t":"Q2","x":52.2,"y":47.7},{"p":"P3","k":"Q","t":"Q4","x":35.3,"y":59.2},{"p":"P3","k":"Q","t":"Q3","x":51.3,"y":59.2},{"p":"P3","k":"Q","t":"Q1","x":35.3,"y":48.3},{"p":"P3","k":"Q","t":"Q2","x":51.3,"y":48.3},{"p":"P4","k":"Q","t":"Q4","x":35,"y":58.2},{"p":"P4","k":"Q","t":"Q3","x":51,"y":58.2},{"p":"P4","k":"Q","t":"Q1","x":35.3,"y":47},{"p":"P4","k":"Q","t":"Q2","x":51,"y":47},{"p":"P1","k":"P","t":"0.01%","x":12,"y":93},{"p":"P1","k":"P","t":"7.51%","x":89.2,"y":93.2},{"p":"P1","k":"P","t":"22.85%","x":86,"y":4.6},{"p":"P2","k":"P","t":"0.01%","x":12.8,"y":93.2},{"p":"P2","k":"P","t":"4.49%","x":89.2,"y":94},{"p":"P2","k":"P","t":"6.06%","x":88.3,"y":4.7},{"p":"P3","k":"P","t":"0.01%","x":12.5,"y":94},{"p":"P3","k":"P","t":"5.14%","x":87.5,"y":94},{"p":"P3","k":"P","t":"20.73%","x":85.4,"y":4.7},{"p":"P4","k":"P","t":"0.01%","x":12.2,"y":93.2},{"p":"P4","k":"P","t":"19.52%","x":85.4,"y":93.2},{"p":"P4","k":"P","t":"17.59%","x":85.7,"y":4.7},{"p":"P1","k":"A","t":"Annexin V","x":207,"y":-20},{"p":"P1","k":"V","t":"PI","x":-19.2,"y":55},{"p":"P1","k":"L","t":"d","x":-22.7,"y":133}]},"facet":{"column":{"field":"p","type":"nominal","header":null}},"spacing":9,"bounds":"flush","spec":{"width":243,"height":260,"layer":[{"transform":[{"filter":"datum.k=='b'"}],"mark":{"type":"circle","color":"#df2020","clip":true},"encoding":{"x":{"field":"x","type":"quantitative","scale":{"domain":[0,100],"nice":false},"axis":null},"y":{"field":"y","type":"quantitative","scale":{"domain":[0,100],"nice":false},"axis":null},"size":{"field":"d","type":"nominal","legend":null,"scale":{"type":"ordinal","domain":["c","n","a","b","e","g","h","t"],"range":[420,120,700,1500,2800,4800,7000,260]}},"opacity":{"field":"d","type":"nominal","legend":null,"scale":{"type":"ordinal","domain":["c","n","a","b","e","g","h","t"],"range":[1,0.9,0.14,0.13,0.11,0.09,0.06,0.13]}}}},{"transform":[{"filter":"datum.k=='s'"}],"mark":{"type":"square","color":"#df2020","size":4,"opacity":1,"clip":true},"encoding":{"x":{"field":"x","type":"quantitative"},"y":{"field":"y","type":"quantitative"}}},{"transform":[{"filter":"datum.k=='c'"}],"mark":{"type":"rule","color":"#333","strokeWidth":1},"encoding":{"x":{"field":"x","type":"quantitative"},"x2":{"field":"x2"},"y":{"field":"y","type":"quantitative"},"y2":{"field":"y2"}}},{"transform":[{"filter":"datum.k=='f'"}],"mark":{"type":"rect","fill":null,"stroke":"#000","strokeWidth":3.6},"encoding":{"x":{"field":"x","type":"quantitative"},"x2":{"field":"x2"},"y":{"field":"y","type":"quantitative"},"y2":{"field":"y2"}}},{"transform":[{"filter":"datum.k=='l'"}],"mark":{"type":"rule","color":"#000","strokeWidth":2.6},"encoding":{"x":{"field":"x","type":"quantitative"},"x2":{"field":"x2"},"y":{"field":"y","type":"quantitative"},"y2":{"field":"y2"}}},{"transform":[{"filter":"datum.k=='T'"}],"mark":{"type":"text","fontSize":21.6,"fontWeight":"bold","color":"#111"},"encoding":{"x":{"field":"x","type":"quantitative"},"y":{"field":"y","type":"quantitative"},"text":{"field":"t"}}},{"transform":[{"filter":"datum.k=='Q'"}],"mark":{"type":"text","fontSize":20,"fontWeight":"bold","color":"#111"},"encoding":{"x":{"field":"x","type":"quantitative"},"y":{"field":"y","type":"quantitative"},"text":{"field":"t"}}},{"transform":[{"filter":"datum.k=='P'"}],"mark":{"type":"text","fontSize":17,"color":"#222"},"encoding":{"x":{"field":"x","type":"quantitative"},"y":{"field":"y","type":"quantitative"},"text":{"field":"t"}}},{"transform":[{"filter":"datum.k=='A'"}],"mark":{"type":"text","fontSize":24,"fontWeight":"bold","color":"#111"},"encoding":{"x":{"field":"x","type":"quantitative"},"y":{"field":"y","type":"quantitative"},"text":{"field":"t"}}},{"transform":[{"filter":"datum.k=='V'"}],"mark":{"type":"text","fontSize":22,"fontWeight":"bold","color":"#111","angle":270},"encoding":{"x":{"field":"x","type":"quantitative"},"y":{"field":"y","type":"quantitative"},"text":{"field":"t"}}},{"transform":[{"filter":"datum.k=='L'"}],"mark":{"type":"text","fontSize":30,"color":"#111"},"encoding":{"x":{"field":"x","type":"quantitative"},"y":{"field":"y","type":"quantitative"},"text":{"field":"t"}}}]}}],"spacing":0,"bounds":"flush"}],"spacing":376.9,"bounds":"flush"},{"width":296,"height":318.3,"layer":[{"data":{"values":[{"g":"Hypoxia+NC-mimic","v":29.5,"e":32.1,"f":"w"},{"g":"Hypoxia+miR221-mimic","v":14.3,"e":18.4,"f":"k"},{"g":"Hypoxia+NC-inhibitor","v":29.1,"e":32.3,"f":"w"},{"g":"Hypoxia+miR221-inhibitor","v":37.8,"e":42.2,"f":"k"}]},"layer":[{"mark":{"type":"rule","color":"#111","strokeWidth":1.8},"encoding":{"x":{"field":"g","type":"nominal","sort":null,"title":null,"scale":{"paddingInner":0.32,"paddingOuter":0.16},"axis":{"labelAngle":-45,"labelAlign":"right","labelBaseline":"middle","labelPadding":6,"labelFontSize":20,"tickSize":10,"tickWidth":2,"domainWidth":2,"labelLimit":400}},"y":{"field":"v","type":"quantitative","title":"Apoptosis(%)","scale":{"domain":[0,50],"nice":false},"axis":{"values":[0,10,20,30,40,50],"labelFontSize":19,"labelFontWeight":"bold","tickSize":10,"tickWidth":1.8,"domainWidth":2,"labelPadding":4,"titleFontSize":24,"titleX":-54,"titleY":168,"titleBaseline":"middle"}},"y2":{"field":"e"}}},{"mark":{"type":"tick","color":"#111","size":24,"thickness":1.8},"encoding":{"x":{"field":"g","type":"nominal","sort":null},"y":{"field":"e","type":"quantitative"}}},{"mark":{"type":"bar","stroke":"#111","strokeWidth":2,"width":49},"encoding":{"x":{"field":"g","type":"nominal","sort":null},"y":{"field":"v","type":"quantitative"},"color":{"field":"f","type":"nominal","legend":null,"scale":{"domain":["w","k"],"range":["#ffffff","#000000"]}}}}]},{"layer":[{"data":{"values":[{"x":0.53,"x2":1.38,"y":34},{"x":2.58,"x2":3.44,"y":43.8}]},"mark":{"type":"rule","color":"#111","strokeWidth":1.6},"encoding":{"x":{"field":"x","type":"quantitative","scale":{"domain":[0,4],"nice":false},"axis":null},"x2":{"field":"x2"},"y":{"field":"y","type":"quantitative"}}},{"data":{"values":[{"t":"*","x":0.96,"y":35.6},{"t":"*","x":3,"y":45.4}]},"mark":{"type":"text","fontSize":26,"fontWeight":"bold","color":"#111","dy":5},"encoding":{"x":{"field":"x","type":"quantitative"},"y":{"field":"y","type":"quantitative"},"text":{"field":"t"}}},{"data":{"values":[{"t":"e","x":-1.16,"y":50.2}]},"mark":{"type":"text","fontSize":30,"color":"#111"},"encoding":{"x":{"field":"x","type":"quantitative"},"y":{"field":"y","type":"quantitative"},"text":{"field":"t"}}}]}],"resolve":{"scale":{"x":"independent"}}}],"spacing":1522.9,"bounds":"flush"}],"spacing":0,"bounds":"flush"}],"spacing":510.5,"bounds":"flush"}
